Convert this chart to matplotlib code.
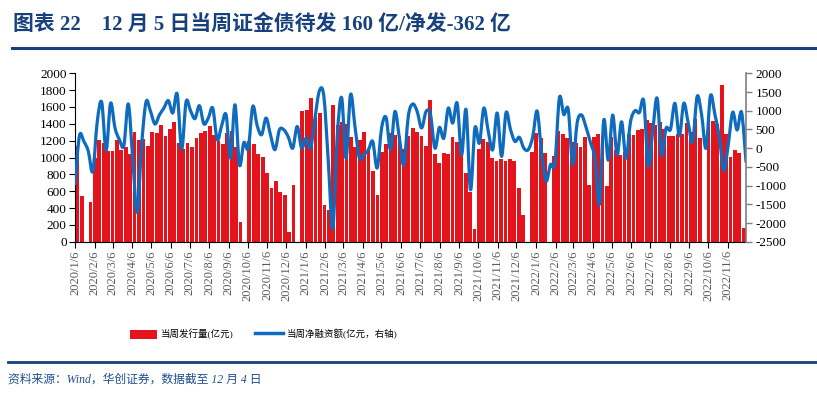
import datetime as dt

import matplotlib
matplotlib.use('Agg')
import matplotlib.pyplot as plt
import numpy as np
from matplotlib.lines import Line2D
from matplotlib.patches import Patch, PathPatch
from matplotlib.path import Path

plt.rcParams['font.family'] = ['Liberation Serif', 'Noto Sans CJK SC']
plt.rcParams['axes.unicode_minus'] = False

START = dt.date(2020, 1, 6)
N_DAYS = 1064  # 2020/1/6 .. 2022/12/5

# weekly issuance (亿元), week of 2020/1/6 onwards
issue = [
    1137, 542, 0, 471, 994, 1208, 1168, 1075, 1073, 1208,
    1089, 1121, 1042, 1303, 1208, 1216, 1137, 1303, 1287, 1382,
    1255, 1335, 1422, 1168, 1100, 1168, 1121, 1232, 1287, 1319,
    1374, 1270, 1200, 1160, 1290, 1315, 1120, 235, 0, 1195,
    1160, 1040, 1012, 812, 640, 718, 586, 552, 113, 670,
    0, 1550, 1564, 1707, 1477, 1529, 436, 376, 1622, 1392,
    1422, 1398, 1240, 1121, 1208, 1303, 1111, 838, 550, 1065,
    1160, 1293, 1269, 1253, 1099, 1253, 1350, 1303, 1255, 1137,
    1683, 1040, 933, 1052, 1040, 1242, 1184, 1091, 812, 590,
    147, 1099, 1222, 1184, 992, 960, 982, 960, 980, 954,
    638, 317, 0, 1065, 1287, 1232, 1053, 0, 1018, 1319,
    1279, 1232, 1184, 1168, 1125, 1244, 677, 1244, 1279, 1244,
    661, 1244, 1091, 1030, 1065, 1279, 1263, 1327, 1339, 1442,
    1410, 1382, 1422, 1339, 1255, 1255, 1279, 1279, 1410, 1303,
    1458, 1232, 0, 1489, 1438, 1398, 1857, 1279, 1002, 1089,
    1050, 160,
]

# weekly net financing (亿元, right axis)
net_financing = [
    -950, 330, 180, -85, -620, 700, 1230, -60, 1200, 540,
    225, 70, 1180, -300, -1710, 90, 1240, 980, 645, 890,
    1070, 1270, 940, 1445, -25, 1240, 1000, 790, 1135, 650,
    805, 1070, 225, 600, 890, -265, 1160, -445, 150, 0,
    1115, 600, 360, 805, 350, -40, 490, 490, 300, 0,
    580, 0, 270, 0, 805, 1535, 1385, -350, -2150, 300,
    1350, -265, 1430, 580, -265, -175, -50, 180, -530, 540,
    820, -40, 980, 270, -445, 850, 1180, 980, 540, 980,
    900, 0, 555, 270, 1070, 670, 1200, -175, 1030, -1110,
    540, 135, 1070, 450, -40, 940, -220, 950, 500, 180,
    290, 0, -40, 300, 990, -130, -880, -440, -400, 1345,
    900, 1030, -440, 680, 885, 560, 150, -280, -1500, 750,
    -320, 885, -185, 705, -270, 700, 1000, 950, 1250, -470,
    450, 1335, -185, 530, 500, 1200, 330, 1200, 670, 170,
    1380, 900, 0, 1400, 900, 300, -600, 90, 960, 485,
    960, -362,
]

# monthly axis labels 2020/1/6 ... 2022/11/6
tick_dates = [dt.date(2020 + m // 12, m % 12 + 1, 6) for m in range(35)]
tick_labels = [f"{d.year}/{d.month}/{d.day}" for d in tick_dates]

BAR_COLOR = '#E3141B'
LINE_COLOR = '#0F6BBE'
NAVY = '#17407C'


def smooth_path(x, y):
    # Catmull-Rom style bezier through the data points (like Excel's smoothed line)
    pts = np.column_stack([x, y]).astype(float)
    verts = [pts[0]]
    codes = [Path.MOVETO]
    last = len(pts) - 1
    for k in range(last):
        p0 = pts[max(k - 1, 0)]
        p1, p2 = pts[k], pts[k + 1]
        p3 = pts[min(k + 2, last)]
        verts += [p1 + (p2 - p0) / 6, p2 - (p3 - p1) / 6, p2]
        codes += [Path.CURVE4] * 3
    return Path(verts, codes)


fig = plt.figure(figsize=(8.17, 3.95), dpi=100)
ax = fig.add_axes([0.0918, 0.388, 0.8213, 0.4264])
ax2 = ax.twinx()

n = len(issue)
bar_x = 7 * np.arange(n) + 3.5
ax.bar(bar_x, issue, width=6.0, color=BAR_COLOR, linewidth=0)

line_x = np.linspace(0, N_DAYS, len(net_financing))
ax2.add_patch(PathPatch(smooth_path(line_x, net_financing), fill=False,
                        edgecolor=LINE_COLOR, linewidth=2.3, capstyle='round',
                        joinstyle='round'))

ax.set_xlim(0, N_DAYS)
ax.set_ylim(0, 2000)
ax.set_yticks(np.arange(0, 2001, 200))
ax2.set_ylim(-2500, 2000)
ax2.set_yticks(np.arange(-2500, 2001, 500))

ax.set_xticks([(d - START).days for d in tick_dates])
ax.set_xticklabels(tick_labels, rotation=90, color='#595959')

ax.tick_params(axis='y', direction='out', length=4, width=0.8, labelsize=9.5, pad=2)
ax.tick_params(axis='x', direction='out', length=4, width=0.8, labelsize=9, pad=2)
ax2.tick_params(axis='y', direction='out', length=4, width=1.0, color='#7F7F7F',
                labelsize=9.5, pad=3)

for name in ('top', 'right'):
    ax.spines[name].set_visible(False)
for name in ('top', 'left', 'bottom'):
    ax2.spines[name].set_visible(False)
ax.spines['left'].set_linewidth(0.8)
ax.spines['bottom'].set_linewidth(0.8)
ax2.spines['right'].set_color('#7F7F7F')
ax2.spines['right'].set_linewidth(1.2)

# title and rules
fig.text(0.016, 0.937, "图表 22    12 月 5 日当周证金债待发 160 亿/净发-362 亿",
         fontsize=15, fontweight='bold', color=NAVY, va='center', ha='left')
fig.add_artist(Line2D([0.015, 1.0], [0.879, 0.879], transform=fig.transFigure,
                      color=NAVY, linewidth=2.2))
fig.add_artist(Line2D([0.01, 1.0], [0.0843, 0.0843], transform=fig.transFigure,
                      color=NAVY, linewidth=2.0))
fig.text(0.01, 0.038, "资料来源：Wind，华创证券，数据截至 12 月 4 日",
         fontsize=8.5, style='italic', color='#1F4E8C', va='center', ha='left')

handles = [Patch(facecolor=BAR_COLOR, edgecolor='none'),
           Line2D([0], [0], color=LINE_COLOR, linewidth=2.5)]
fig.legend(handles, ["当周发行量(亿元)", "当周净融资额(亿元，右轴)"],
           loc='center', bbox_to_anchor=(0.3225, 0.154), ncol=2, frameon=False,
           fontsize=6.8, handlelength=2.9, handleheight=1.1, handletextpad=0.4,
           columnspacing=2.3)

fig.savefig('out.png', dpi=100, facecolor='white')
